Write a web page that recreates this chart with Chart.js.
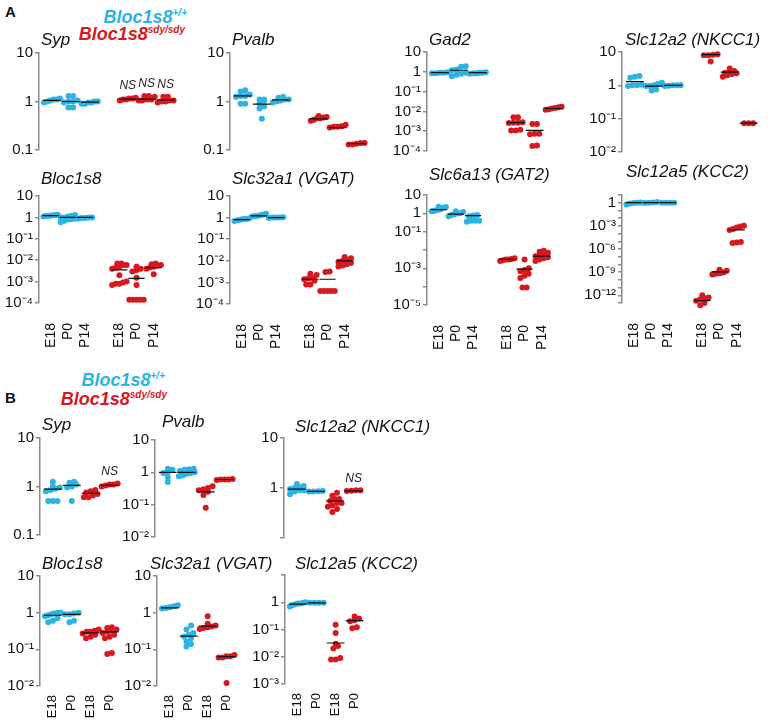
<!DOCTYPE html>
<html>
<head>
<meta charset="utf-8">
<script src="https://cdn.jsdelivr.net/npm/chart.js@4.4.1/dist/chart.umd.min.js"></script>
<style>
  body { margin: 0; background: #fff; width: 776px; height: 720px; position: relative; overflow: hidden;
         font-family: "Liberation Sans", Arial, sans-serif; }
  canvas { position: absolute; }
  .title { position: absolute; font-style: italic; font-size: 17px; line-height: 17px; color: #111; white-space: nowrap; }
  .panel { position: absolute; font-weight: bold; font-size: 15px; line-height: 15px; color: #111; }
  .leg { position: absolute; font-style: italic; font-weight: bold; font-size: 18px; line-height: 18px; white-space: nowrap; }
  .leg sup { font-size: 10px; vertical-align: 0; position: relative; top: -7px; }
  .wt { color: #2bb3e3; }
  .ko { color: #d7191f; }
</style>
</head>
<body>
<div class="panel" style="left:5px; top:4px;">A</div>
<div class="leg wt" style="right:589px; top:8px;">Bloc1s8<sup>+/+</sup></div>
<div class="leg ko" style="right:591px; top:25px;">Bloc1s8<sup>sdy/sdy</sup></div>
<div class="panel" style="left:5px; top:390px;">B</div>
<div class="leg wt" style="right:611px; top:371px;">Bloc1s8<sup>+/+</sup></div>
<div class="leg ko" style="right:609px; top:390px;">Bloc1s8<sup>sdy/sdy</sup></div>

<script>
// x categories
const stagesA = ['E18', 'P0', 'P14', 'E18', 'P0', 'P14'];
const stagesB = ['E18', 'P0', 'E18', 'P0'];
const posA = [0, 1, 2, 4, 5, 6];
const posB = [0, 1, 2, 3];

// y tick labels, one per decade from top to bottom
const yt10to01 = ['10', '1', '0.1'];
const yt10to4 = ['10', '1', '10⁻¹', '10⁻²', '10⁻³', '10⁻⁴'];
const yt10to2 = ['10', '1', '10⁻¹', '10⁻²'];
const ytGat2 = ['10', '1', '10⁻¹', '', '10⁻³', '', '10⁻⁵'];
const ytKcc2A = ['', '1', '', '', '10⁻³', '', '', '10⁻⁶', '', '', '10⁻⁹', '', '', '10⁻¹²', ''];
const ytNkcc1B = ['10', '1', ''];
const ytKcc2B = ['', '1', '10⁻¹', '10⁻²', '10⁻³'];

// A: relative expression, groups = +/+ E18,P0,P14 then sdy/sdy E18,P0,P14
const sypA = [
  [1.15, 1.1, 1.05, 1.0, 1.1, 0.95],
  [1.3, 1.3, 1.05, 1.0, 0.95, 1.0, 0.75, 0.75],
  [1.0, 0.95, 0.9, 0.95, 1.0, 0.9],
  [1.2, 1.15, 1.1, 1.1, 1.05, 1.15],
  [1.3, 1.3, 1.25, 1.1, 1.05, 1.05, 1.1, 1.1],
  [1.25, 1.25, 1.05, 1.0, 0.95, 1.0, 1.05]
];
const sypAMean = [1.05, 1.0, 0.97, 1.12, 1.12, 1.08];

const pvalbA = [
  [1.7, 1.6, 1.4, 1.3, 1.25, 0.9, 0.9, 1.3],
  [1.1, 1.1, 1.05, 0.9, 0.8, 0.72, 0.44],
  [1.25, 1.2, 1.1, 1.05, 1.0, 0.95, 1.1],
  [0.48, 0.5, 0.45, 0.42, 0.4, 0.45, 0.47],
  [0.33, 0.31, 0.3, 0.29, 0.3],
  [0.14, 0.135, 0.13, 0.14, 0.13]
];
const pvalbAMean = [1.3, 0.88, 1.08, 0.44, 0.29, 0.135];

const gad2A = [
  [0.9, 0.85, 0.95, 0.9, 0.85],
  [1.9, 1.8, 1.3, 1.2, 0.9, 0.8, 0.6, 0.7],
  [0.95, 0.9, 0.85, 0.8, 0.9, 0.85],
  [5e-3, 5e-3, 2.7e-3, 2.7e-3, 2.6e-3, 2.8e-3, 1.1e-3, 1.1e-3, 1.2e-3],
  [2.3e-3, 2.3e-3, 7.5e-4, 7e-4, 7.5e-4, 1.9e-4, 1.8e-4],
  [1.6e-2, 1.7e-2, 1.5e-2, 1.3e-2, 1.2e-2, 1.4e-2]
];
const gad2AMean = [0.9, 1.2, 0.9, 2.7e-3, 1.1e-3, 1.4e-2];

const nkcc1A = [
  [1.9, 1.8, 1.7, 1.0, 1.0, 1.05, 0.95],
  [1.2, 1.1, 0.95, 0.95, 1.0, 0.75, 0.7],
  [1.0, 0.98, 1.0, 0.95, 1.0],
  [8.5, 8.0, 8.0, 8.3, 5.2],
  [3.2, 2.7, 2.4, 2.3, 2.2, 2.0, 1.8, 2.5],
  [0.073, 0.073, 0.073]
];
const nkcc1AMean = [1.3, 0.95, 1.0, 8.3, 2.5, 0.073];

const bloc1s8A = [
  [1.3, 1.25, 1.2, 1.1, 1.2, 1.15, 1.3],
  [1.3, 1.2, 1.1, 1.0, 0.9, 0.8, 0.7, 0.6, 1.0, 0.85],
  [1.0, 0.95, 1.0, 0.95, 0.9],
  [7e-3, 7e-3, 6e-3, 6e-3, 5e-3, 4.5e-3, 4e-3, 2e-3, 1e-3, 9e-4, 8e-4, 7e-4, 8e-4],
  [5e-3, 4e-3, 3.5e-3, 3e-3, 1.5e-3, 7e-4, 1.4e-4, 1.4e-4, 1.4e-4, 1.4e-4, 1.4e-4],
  [7e-3, 6.5e-3, 6e-3, 5e-3, 4.5e-3, 4e-3, 5.5e-3, 2.2e-3]
];
const bloc1s8AMean = [1.2, 1.0, 1.0, 3.5e-3, 1.4e-3, 4.5e-3];

const vgatA = [
  [0.9, 0.85, 0.8, 0.75, 0.7, 0.85],
  [1.5, 1.4, 1.3, 1.2, 1.1, 1.2],
  [1.05, 1.0, 1.0, 0.95, 1.0],
  [2.5e-3, 2.2e-3, 1.6e-3, 1.5e-3, 1.4e-3, 1.2e-3, 8e-4, 8e-4],
  [3.2e-3, 3e-3, 4e-4, 4e-4, 4e-4, 4e-4, 4e-4],
  [1.5e-2, 1.3e-2, 1.1e-2, 1e-2, 9e-3, 8e-3, 7e-3, 6e-3, 5.5e-3]
];
const vgatAMean = [0.8, 1.2, 1.0, 1.4e-3, 1.4e-3, 1e-2];

const gat2A = [
  [2.3, 2.2, 2.0, 1.5, 1.4, 1.3, 1.6],
  [1.3, 1.2, 1.0, 0.9, 0.8, 0.7, 1.0],
  [0.8, 0.75, 0.7, 0.4, 0.4, 0.35, 0.4],
  [3.5e-3, 3.2e-3, 3e-3, 2.8e-3, 2.5e-3, 3e-3],
  [3e-3, 1e-3, 8e-4, 7e-4, 5e-4, 4e-4, 3e-4, 9e-5, 9e-5],
  [9e-3, 8e-3, 7e-3, 6e-3, 5e-3, 4.5e-3, 4e-3, 3.5e-3, 3e-3, 2.5e-3]
];
const gat2AMean = [1.6, 0.9, 0.75, 3.1e-3, 9e-4, 4.6e-3];

const kcc2A = [
  [1.1, 1.0, 0.8, 0.6, 0.9],
  [1.2, 1.1, 1.0, 0.9],
  [1.0, 1.0, 1.0, 1.0],
  [1e-12, 5e-13, 3e-13, 2e-13, 1e-13, 5e-14, 4e-13],
  [2e-9, 1.5e-9, 1e-9, 8e-10, 6e-10, 5e-10, 7e-10],
  [1e-3, 8e-4, 6e-4, 4e-4, 3e-4, 8e-6, 7e-6, 6e-6]
];
const kcc2AMean = [1.0, 1.0, 1.0, 2e-13, 1.1e-9, 3e-4];

// B: groups = +/+ E18,P0 then sdy/sdy E18,P0
const sypB = [
  [1.25, 1.0, 0.95, 0.9, 0.85, 0.8, 0.5, 0.5, 0.5],
  [1.25, 1.2, 1.1, 1.0, 0.95, 0.5],
  [0.85, 0.8, 0.75, 0.7, 0.65, 0.6, 0.6],
  [1.15, 1.1, 1.05, 1.0, 1.1]
];
const sypBMean = [0.88, 1.05, 0.72, 1.05];

const pvalbB = [
  [1.3, 1.2, 1.0, 0.95, 0.7, 0.5],
  [1.3, 1.25, 1.1, 1.0, 0.9, 0.8, 0.75, 1.2, 0.95],
  [0.37, 0.33, 0.3, 0.28, 0.25, 0.2, 0.08],
  [0.62, 0.6, 0.58, 0.6, 0.6]
];
const pvalbBMean = [1.0, 1.0, 0.25, 0.6];

const nkcc1B = [
  [1.2, 1.1, 1.0, 0.95, 0.9, 0.85, 0.75, 1.05, 0.9],
  [0.87, 0.85, 0.85, 0.86],
  [0.8, 0.7, 0.6, 0.55, 0.5, 0.45, 0.42, 0.38, 0.33, 0.6, 0.5],
  [0.88, 0.9, 0.87, 0.9]
];
const nkcc1BMean = [0.95, 0.86, 0.55, 0.88];

const bloc1s8B = [
  [1.0, 0.95, 0.9, 0.85, 0.8, 0.7, 0.6, 0.55, 1.0],
  [1.0, 0.95, 0.9, 0.6, 0.55, 0.9],
  [0.35, 0.32, 0.3, 0.27, 0.25, 0.22, 0.2, 0.3],
  [0.4, 0.38, 0.35, 0.32, 0.3, 0.28, 0.25, 0.22, 0.2, 0.08, 0.075]
];
const bloc1s8BMean = [0.85, 0.9, 0.28, 0.3];

const vgatB = [
  [1.6, 1.5, 1.4, 1.35, 1.3],
  [0.45, 0.35, 0.28, 0.22, 0.2, 0.16, 0.14, 0.12, 0.25],
  [0.8, 0.5, 0.45, 0.42, 0.4, 0.38, 0.36],
  [0.07, 0.065, 0.06, 0.065, 0.06, 0.012]
];
const vgatBMean = [1.35, 0.23, 0.43, 0.063];

const kcc2B = [
  [1.0, 0.95, 0.9, 0.85, 0.8, 0.7, 0.9],
  [0.95, 0.95, 0.95, 0.95],
  [0.15, 0.075, 0.03, 0.025, 0.02, 0.009, 0.008, 0.008],
  [0.3, 0.25, 0.22, 0.2, 0.12, 0.11]
];
const kcc2BMean = [0.85, 0.95, 0.032, 0.21];

const WT = '#2bb3e3';
const KO = '#d7191f';
const UNIT = 19;      // px between groups
const YW = 44;        // y axis box width

Chart.defaults.font.family = '"Liberation Sans", Arial, sans-serif';

// layout of each panel: axis x, pixel of top/bottom decade, exponents
const panels = [
  { name: 'Syp', vals: sypA, mean: sypAMean, pos: posA, ax: 39, y0: 50, y1: 158, hi: 1, lo: -1, yt: yt10to01, ns: [3, 4, 5], tx: 41, ty: 31 },
  { name: 'Pvalb', vals: pvalbA, mean: pvalbAMean, pos: posA, ax: 230, y0: 50, y1: 158, hi: 1, lo: -1, yt: yt10to01, tx: 232, ty: 31 },
  { name: 'Gad2', vals: gad2A, mean: gad2AMean, pos: posA, ax: 427, y0: 49, y1: 159, hi: 1, lo: -4, yt: yt10to4, tx: 429, ty: 31 },
  { name: 'Slc12a2 (NKCC1)', vals: nkcc1A, mean: nkcc1AMean, pos: posA, ax: 622, y0: 49, y1: 160, hi: 1, lo: -2, yt: yt10to2, tx: 625, ty: 31 },
  { name: 'Bloc1s8', vals: bloc1s8A, mean: bloc1s8AMean, pos: posA, xl: stagesA, pad: 12, xf: 14, ax: 39, y0: 193, y1: 303, hi: 1, lo: -4, yt: yt10to4, tx: 41, ty: 170 },
  { name: 'Slc32a1 (VGAT)', vals: vgatA, mean: vgatAMean, pos: posA, xl: stagesA, pad: 12, xf: 14, ax: 230, y0: 193, y1: 304, hi: 1, lo: -4, yt: yt10to4, tx: 232, ty: 170 },
  { name: 'Slc6a13 (GAT2)', vals: gat2A, mean: gat2AMean, pos: posA, xl: stagesA, pad: 12, xf: 14, ax: 427, y0: 192, y1: 305, hi: 1, lo: -5, yt: ytGat2, tx: 429, ty: 166 },
  { name: 'Slc12a5 (KCC2)', vals: kcc2A, mean: kcc2AMean, pos: posA, xl: stagesA, pad: 12, xf: 14, ax: 622, y0: 192, y1: 303, hi: 1, lo: -13, yt: ytKcc2A, tx: 626, ty: 163 },
  { name: 'Syp', vals: sypB, mean: sypBMean, pos: posB, ax: 40, y0: 435, y1: 543, hi: 1, lo: -1, yt: yt10to01, ns: [3], tx: 42, ty: 416 },
  { name: 'Pvalb', vals: pvalbB, mean: pvalbBMean, pos: posB, ax: 155, y0: 437, y1: 545, hi: 1, lo: -2, yt: yt10to2, tx: 162, ty: 413 },
  { name: 'Slc12a2 (NKCC1)', vals: nkcc1B, mean: nkcc1BMean, pos: posB, ax: 284, y0: 435, y1: 546, hi: 1, lo: -1, yt: ytNkcc1B, ns: [3], tx: 295, ty: 418 },
  { name: 'Bloc1s8', vals: bloc1s8B, mean: bloc1s8BMean, pos: posB, xl: stagesB, pad: 1, xf: 13, ax: 40, y0: 573, y1: 686, hi: 1, lo: -2, yt: yt10to2, tx: 42, ty: 555 },
  { name: 'Slc32a1 (VGAT)', vals: vgatB, mean: vgatBMean, pos: posB, xl: stagesB, pad: 1, xf: 13, ax: 157, y0: 573, y1: 686, hi: 1, lo: -2, yt: yt10to2, tx: 150, ty: 555 },
  { name: 'Slc12a5 (KCC2)', vals: kcc2B, mean: kcc2BMean, pos: posB, xl: stagesB, pad: 1, xf: 13, ax: 285, y0: 572, y1: 684, hi: 1, lo: -3, yt: ytKcc2B, tx: 295, ty: 555 }
];

// spread points of one group into symmetric rows (px offsets)
function swarm(vals, decPx) {
  const order = vals.map((v, i) => i).sort((a, b) => vals[a] - vals[b]);
  const off = new Array(vals.length).fill(0);
  let row = [];
  let start = null;
  const flush = () => {
    const n = row.length;
    const step = n > 1 ? Math.min(4.6, 16 / (n - 1)) : 0;
    row.forEach((i, j) => { off[i] = (j - (n - 1) / 2) * step; });
    row = [];
  };
  order.forEach(i => {
    const py = Math.log10(vals[i]) * decPx;
    if (start === null || py - start > 4.5) { flush(); start = py; }
    row.push(i);
  });
  flush();
  return off;
}

function nsPlugin(p) {
  return {
    id: 'ns',
    afterDatasetsDraw(chart) {
      if (!p.ns) return;
      const { ctx, scales } = chart;
      ctx.save();
      ctx.font = 'italic 12px "Liberation Sans", Arial, sans-serif';
      ctx.fillStyle = '#222';
      ctx.textAlign = 'center';
      ctx.textBaseline = 'middle';
      p.ns.forEach(g => {
        const top = Math.max(...p.vals[g]);
        ctx.fillText('NS', scales.x.getPixelForValue(p.pos[g]), scales.y.getPixelForValue(top) - 12);
      });
      ctx.restore();
    }
  };
}

panels.forEach(p => {
  const xmin = -0.68;
  const xmax = p.pos[p.pos.length - 1] + 0.6;
  const chartW = (xmax - xmin) * UNIT;
  const bottom = p.xl ? 50 : 8;
  const canvas = document.createElement('canvas');
  canvas.width = Math.round(YW + chartW + 6);
  canvas.height = Math.round(p.y1 - p.y0 + 8 + bottom);
  canvas.style.left = (p.ax - YW) + 'px';
  canvas.style.top = (p.y0 - 8) + 'px';
  document.body.appendChild(canvas);

  const title = document.createElement('div');
  title.className = 'title';
  title.textContent = p.name;
  title.style.left = p.tx + 'px';
  title.style.top = p.ty + 'px';
  document.body.appendChild(title);

  const decPx = (p.y1 - p.y0) / (p.hi - p.lo);
  const half = p.pos.length / 2;
  const wt = [], ko = [], means = [];
  p.vals.forEach((g, gi) => {
    const off = swarm(g, decPx);
    const pts = g.map((v, i) => ({ x: p.pos[gi] + off[i] / UNIT, y: v }));
    (gi < half ? wt : ko).push(...pts);
    means.push({ x: p.pos[gi] - 0.47, y: p.mean[gi] }, { x: p.pos[gi] + 0.47, y: p.mean[gi] }, { x: p.pos[gi], y: null });
  });

  new Chart(canvas, {
    type: 'scatter',
    data: {
      datasets: [
        { type: 'line', data: means, borderColor: '#111', borderWidth: 1.2, pointRadius: 0, spanGaps: false, clip: false },
        { data: wt, backgroundColor: WT, borderWidth: 0, pointRadius: 3, clip: false },
        { data: ko, backgroundColor: KO, borderWidth: 0, pointRadius: 3, clip: false }
      ]
    },
    options: {
      responsive: false,
      animation: false,
      events: [],
      layout: { padding: { top: 8, right: 6, bottom: p.xl ? 0 : 8, left: 0 } },
      plugins: { legend: { display: false }, tooltip: { enabled: false } },
      scales: {
        x: {
          type: 'linear', min: xmin, max: xmax, display: !!p.xl,
          grid: { display: false }, border: { display: false },
          afterBuildTicks: s => { s.ticks = p.pos.map(v => ({ value: v })); },
          afterFit: s => { s.height = bottom; },
          ticks: {
            autoSkip: false, minRotation: 90, maxRotation: 90, padding: p.pad || 0,
            color: '#111', font: { size: p.xf || 14 },
            callback: (v, i) => (p.xl ? p.xl[i] : '')
          }
        },
        y: {
          type: 'logarithmic', min: Math.pow(10, p.lo), max: Math.pow(10, p.hi),
          afterFit: s => { s.width = YW; },
          afterBuildTicks: s => { s.ticks = p.yt.map((l, i) => ({ value: Math.pow(10, p.hi - i) })); },
          ticks: { autoSkip: false, padding: 2, color: '#111', font: { size: 15 }, callback: (v, i) => p.yt[i] },
          grid: { drawOnChartArea: false, tickLength: 4, color: '#8a8a8a', lineWidth: 1.5 },
          border: { color: '#8a8a8a', width: 1.5 }
        }
      }
    },
    plugins: [nsPlugin(p)]
  });
});
</script>
</body>
</html>
